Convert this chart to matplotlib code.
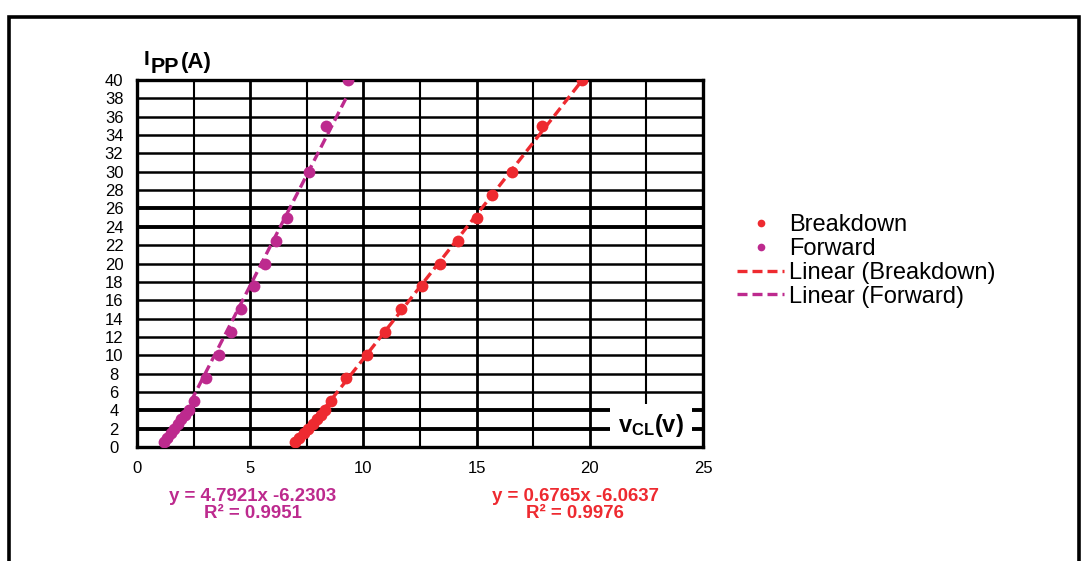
import numpy as np
import matplotlib
matplotlib.use("Agg")
import matplotlib.pyplot as plt
from matplotlib.patches import Rectangle

# clamping voltage (V) vs peak pulse current (A)
bd_v = [6.97, 7.17, 7.37, 7.56, 7.76, 7.95, 8.12, 8.30, 8.57, 9.23, 10.14,
        10.95, 11.66, 12.57, 13.38, 14.17, 15.0, 15.67, 16.55, 17.9, 19.64]
bd_i = [0.5, 1, 1.5, 2, 2.5, 3, 3.5, 4, 5, 7.5, 10,
        12.5, 15, 17.5, 20, 22.5, 25, 27.5, 30, 35, 40]

fw_v = [1.18, 1.33, 1.48, 1.63, 1.79, 1.95, 2.12, 2.28, 2.52, 3.05, 3.60,
        4.15, 4.60, 5.17, 5.65, 6.15, 6.64, 7.58, 8.33, 9.32]
fw_i = [0.5, 1, 1.5, 2, 2.5, 3, 3.5, 4, 5, 7.5, 10,
        12.5, 15, 17.5, 20, 22.5, 25, 30, 35, 40]

bd_eq = "y = 0.6765x -6.0637\nR² = 0.9976"
fw_eq = "y = 4.7921x -6.2303\nR² = 0.9951"

red = "#EE2A30"
mag = "#BD2A8E"

plt.rcParams["font.family"] = ["Liberation Sans", "DejaVu Sans"]
plt.rcParams["mathtext.fontset"] = "custom"
plt.rcParams["mathtext.rm"] = "Liberation Sans"
plt.rcParams["mathtext.bf"] = "Liberation Sans:bold"

fig = plt.figure(figsize=(10.82, 5.61), dpi=100)
ax = fig.add_axes([137/1082, 1-447/561, (703-137)/1082, (447-80)/561])

# outer frame
fig.patches.append(Rectangle((0.008, -0.1), 0.989, 1.1 - 17/561, transform=fig.transFigure,
                             fill=False, edgecolor="black", linewidth=2.6))

ax.set_xlim(0, 25)
ax.set_ylim(0, 40)
ax.set_xticks(np.arange(0, 26, 5))
ax.set_yticks(np.arange(0, 41, 2))
ax.tick_params(which="both", length=0, labelsize=12)
ax.tick_params(axis="x", pad=10)
ax.tick_params(axis="y", pad=16.5)
for lab in ax.get_yticklabels():
    lab.set_horizontalalignment("center")

# grid
for x in np.arange(2.5, 25, 2.5):
    ax.axvline(x, color="black", lw=2.0 if x % 5 == 0 else 1.5, zorder=1)
for y in np.arange(2, 40, 2):
    ax.axhline(y, color="black", lw=2.8 if y in (2, 4, 24, 26) else 1.8, zorder=1)
for s in ax.spines.values():
    s.set_linewidth(2.4)

# points
ax.plot(bd_v, bd_i, "o", color=red, ms=8.5, mew=0, label="Breakdown", zorder=4)
ax.plot(fw_v, fw_i, "o", color=mag, ms=8.5, mew=0, label="Forward", zorder=4)

# linear trendlines
for v, i, c, name in [(bd_v, bd_i, red, "Linear (Breakdown)"),
                      (fw_v, fw_i, mag, "Linear (Forward)")]:
    k, b = np.polyfit(v, i, 1)
    xs = np.array([min(v), max(v)])
    ax.plot(xs, k * xs + b, "--", color=c, lw=2.4, dashes=(3, 1.5), label=name, zorder=3)

leg = ax.legend(loc="upper left", bbox_to_anchor=(737/1082, 1-214/561),
                bbox_transform=fig.transFigure, frameon=False, fontsize=17,
                handlelength=2.0, handletextpad=0.2, labelspacing=0.08,
                borderpad=0, borderaxespad=0, markerscale=0.65)

# x axis title sits on the grid, over a white patch (below the spines)
ax.text(22.7, 2.3, r"$\mathbf{v_{CL}(v)}$", fontsize=17, ha="center", va="center", zorder=2,
        bbox=dict(facecolor="white", edgecolor="none", boxstyle="square,pad=0.35"))

# y axis title, I with PP subscript
fig.text(144/1082, 1-65/561, "I", fontsize=15, fontweight="bold", ha="left", va="baseline")
fig.text(151/1082, 1-73/561, "PP", fontsize=15.5, fontweight="bold", ha="left", va="baseline")
fig.text(181/1082, 1-68/561, "(A)", fontsize=16, fontweight="bold", ha="left", va="baseline")

fig.text(253/1082, 1-505/561, fw_eq, color=mag, fontsize=13.4, fontweight="bold",
         ha="center", va="center", multialignment="center", linespacing=1.05)
fig.text(575/1082, 1-505/561, bd_eq, color=red, fontsize=13.4, fontweight="bold",
         ha="center", va="center", multialignment="center", linespacing=1.05)

fig.savefig("out.png", dpi=100)
